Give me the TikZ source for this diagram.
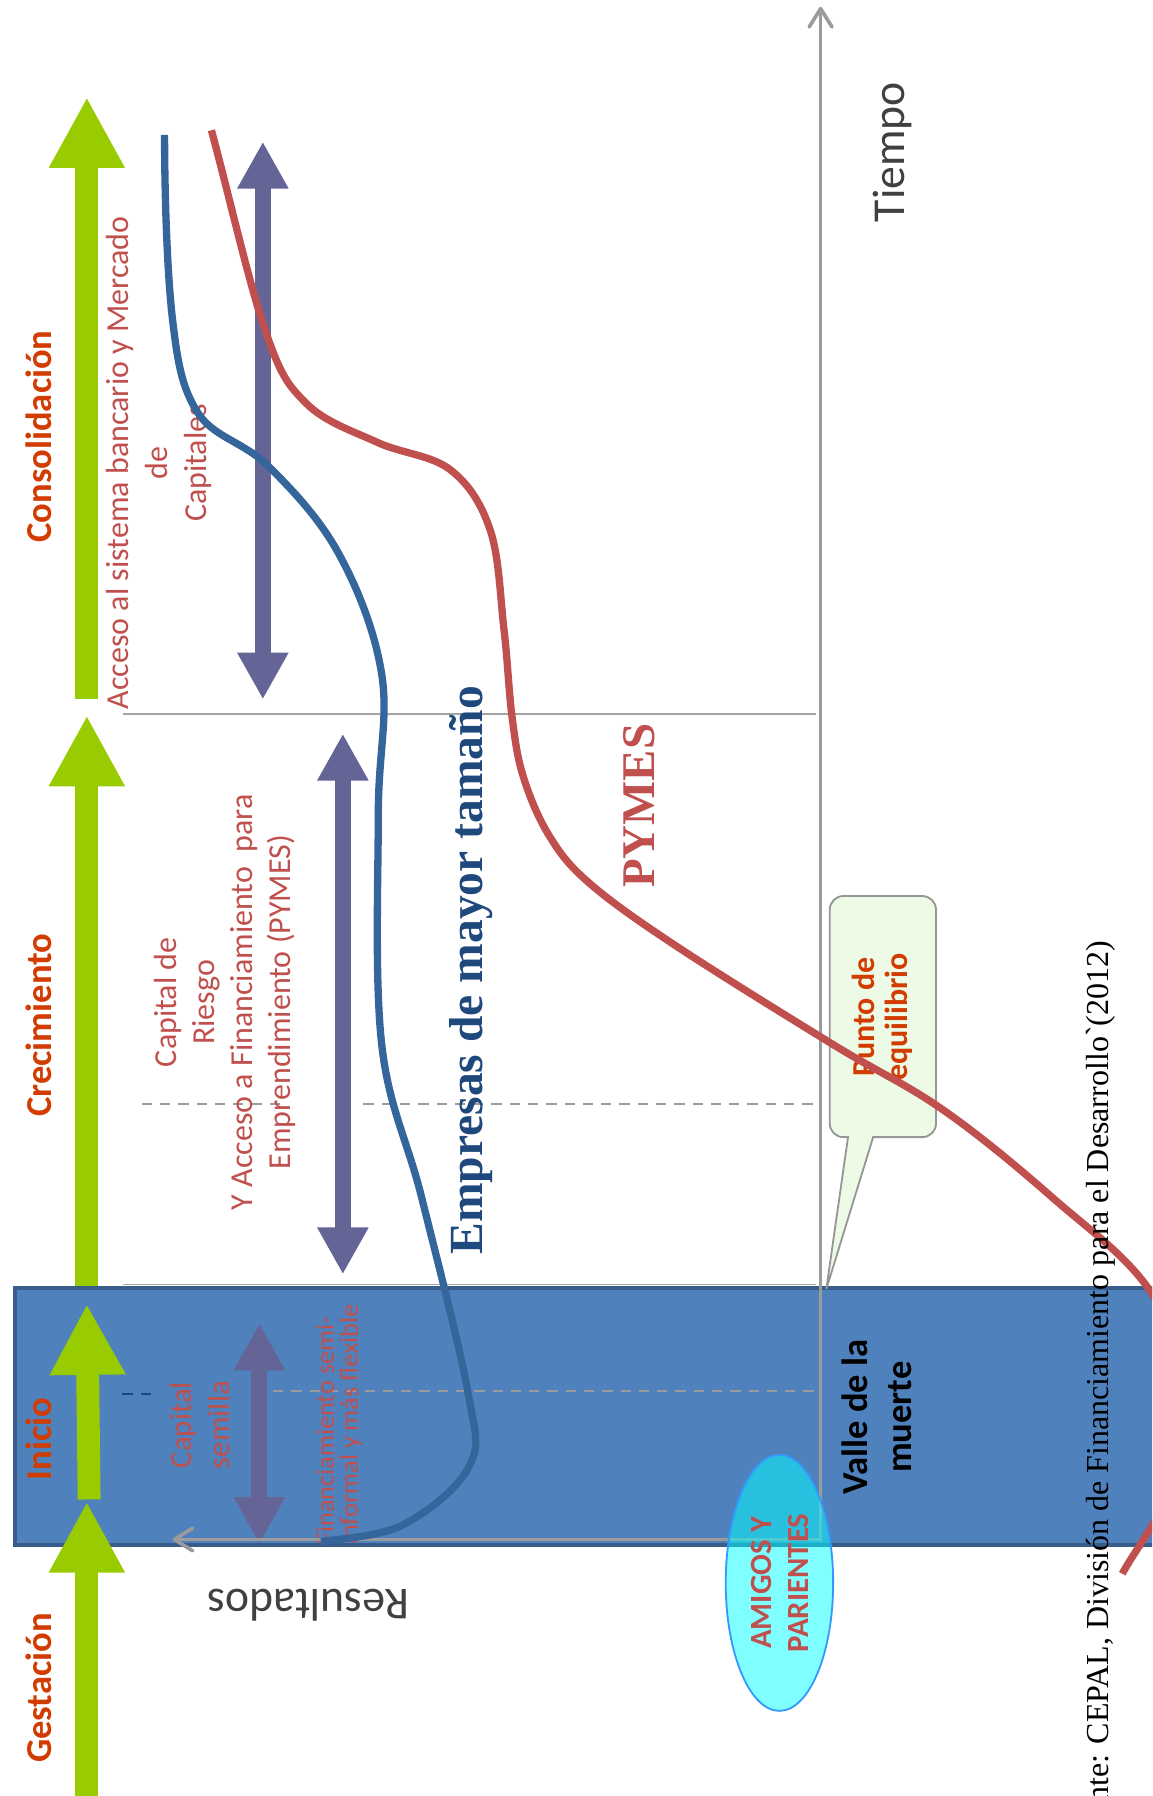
\documentclass[tikz,border=0pt]{standalone}
\usepackage{fontspec}
\setmainfont{Liberation Serif}
\newfontfamily\calibri{Carlito}
\usepackage{tikz}
\usetikzlibrary{arrows.meta}
\definecolor{faseverde}{RGB}{153,204,0}
\definecolor{faserojo}{RGB}{210,60,0}
\definecolor{textorojo}{RGB}{192,80,77}
\definecolor{flechamorada}{RGB}{100,100,150}
\definecolor{azulvalle}{RGB}{79,129,189}
\definecolor{bordevalle}{RGB}{56,93,138}
\definecolor{azulcurva}{RGB}{52,101,155}
\definecolor{azultitulo}{RGB}{31,73,125}
\definecolor{grisejes}{RGB}{155,155,155}
\definecolor{grislinea}{RGB}{165,165,165}
\definecolor{grisletra}{RGB}{64,64,64}
\definecolor{verdenota}{RGB}{236,250,230}
\definecolor{bordenota}{RGB}{150,150,150}
\definecolor{cianamigos}{RGB}{0,255,255}
\definecolor{bordeamigos}{RGB}{51,153,255}

\begin{document}
\begin{tikzpicture}[x=0.5pt,y=0.5pt,yscale=-1,xscale=1,
  fasearrow/.style={line width=10pt,draw=faseverde,-{Triangle[width=31pt,length=31pt]}},
  apoyoarrow/.style={line width=7pt,draw=flechamorada,{Triangle[width=21pt,length=20.5pt]}-{Triangle[width=21pt,length=20.5pt]}},
  bandline/.style={draw=grislinea,line width=0.7pt},
  dashline/.style={draw=grisejes,line width=1pt,dash pattern=on 4.5pt off 3.5pt},
  ejeline/.style={draw=grisejes,line width=1.6pt,{Straight Barb[length=8pt,width=10pt,round]}-{Straight Barb[length=8pt,width=10pt,round]}},
  curvaline/.style={line width=3.2pt},
  faselabel/.style={anchor=base,rotate=90,inner sep=0pt,text=faserojo,font=\calibri\bfseries\fontsize{16pt}{19pt}\selectfont},
  apoyotext/.style={anchor=north,rotate=90,inner sep=0pt,align=center,text=textorojo,font=\calibri\fontsize{14pt}{17pt}\selectfont},
  titulotext/.style={anchor=base,rotate=90,inner sep=0pt,font=\bfseries\fontsize{20.8pt}{24pt}\selectfont},
  ejetext/.style={anchor=base,inner sep=0pt,text=grisletra,font=\calibri\fontsize{20pt}{24pt}\selectfont},
  notatext/.style={anchor=north,rotate=90,inner sep=0pt,align=center,font=\calibri\bfseries\fontsize{14pt}{14.5pt}\selectfont}
]
\useasboundingbox (0,0) rectangle (1008,1571.5);
\clip (0,0) rectangle (1008,1571.5);
% fases superiores
\draw[fasearrow] (76,612) -- (76,85);
\draw[fasearrow] (76,1127) -- (76,626);
\draw[bandline] (108,625) -- (714,625);
\draw[dashline] (124,966) -- (250,966);
\draw[dashline] (318,966) -- (714,966);
\draw (93,405) node [apoyotext] (acceso) {Acceso al sistema bancario y Mercado\\de\\Capitales};
\draw (135,877) node [apoyotext,font=\calibri\fontsize{14pt}{16.5pt}\selectfont] (riesgo) {Capital de\\Riesgo\\Y Acceso a Financiamiento\ \ para\\Emprendimiento (PYMES)};
\draw[apoyoarrow] (230,124) -- (230,612);
\draw[apoyoarrow] (300,642) -- (300,1115);
% valle de la muerte
\draw[line width=1.6pt,draw=bordevalle,fill=azulvalle] (13,1127) rectangle (1030,1352);
\draw[bandline] (108,1124) -- (714,1124);
\draw[fasearrow] (78,1312) -- (76,1141);
\draw[fasearrow] (76,1572) -- (76,1314);
\draw[dashline,draw=azultitulo] (107,1220) -- (135,1220);
\draw[dashline] (239,1217) -- (714,1217);
\draw (148,1247) node [apoyotext,font=\calibri\fontsize{13.5pt}{17pt}\selectfont] (semilla) {Capital\\semilla};
\draw (276,1352) node [apoyotext,anchor=north west,align=left,font=\calibri\fontsize{11.5pt}{10.5pt}\selectfont] (informal) {Financiamiento semi-\\informal y más flexible};
\draw[apoyoarrow] (227,1158) -- (227,1351);
% ejes
\draw[ejeline] (151,1347) -- (718,1347) -- (718,6);
\draw[draw=bordenota,line width=0.8pt,fill=verdenota] (723,1128) -- (742,995) [rounded corners=6pt] -- (726,995) -- (726,784) -- (819,784) -- (819,995) [sharp corners] -- (764,995) -- cycle;
\draw (745,890) node [notatext,text=faserojo] (punto) {Punto de\\equilibrio};
% curvas
\draw[curvaline,draw=azulcurva] (144,118) .. controls (144,170) and (146.2,239.5) .. (151,280) .. controls (155.8,320.5) and (159.7,340) .. (173,361) .. controls (186.3,382) and (210.7,385.8) .. (233,406) .. controls (253.3,426.2) and (277.8,451.3) .. (295,482) .. controls (312.2,512.7) and (328,551.5) .. (334,590) .. controls (340,628.5) and (331,659) .. (331,713) .. controls (331,767) and (327.7,858.2) .. (334,914) .. controls (340.3,969.8) and (356.5,997.7) .. (369,1048) .. controls (381.5,1098.3) and (402,1177) .. (409,1216) .. controls (416,1255) and (420.3,1262.3) .. (411,1282) .. controls (401.7,1301.7) and (374.7,1322.8) .. (353,1334) .. controls (331.3,1345.2) and (293,1346.5) .. (281,1349);
\draw[curvaline,draw=textorojo] (185,114) .. controls (200.7,172.3) and (218.2,249.2) .. (232,289) .. controls (245.8,328.8) and (251.7,336.7) .. (268,353) .. controls (284.3,369.3) and (309,377.3) .. (330,387) .. controls (351,396.7) and (377.5,398.2) .. (394,411) .. controls (410.5,423.8) and (421.2,440.7) .. (429,464) .. controls (436.8,487.3) and (437.8,523.8) .. (441,551) .. controls (444.2,578.2) and (445.2,605.5) .. (448,627) .. controls (450.8,648.5) and (452.5,662.5) .. (458,680) .. controls (463.5,697.5) and (471.3,716.5) .. (481,732) .. controls (490.7,747.5) and (497.5,757) .. (516,773) .. controls (534.5,789) and (556.5,804.5) .. (592,828) .. controls (627.5,851.5) and (690.2,890.2) .. (729,914) .. controls (767.8,937.8) and (793,948.7) .. (825,971) .. controls (857,993.3) and (890.5,1021.2) .. (921,1048) .. controls (951.5,1074.8) and (986.5,1099.2) .. (1008,1132) .. controls (1029.5,1164.8) and (1054.3,1204.2) .. (1050,1245) .. controls (1045.7,1285.8) and (993.3,1355) .. (982,1377);
% textos
\draw (45,382) node [faselabel] (consolidacion) {Consolidación};
\draw (45,897) node [faselabel] (crecimiento) {Crecimiento};
\draw (45,1259) node [faselabel] (inicio) {Inicio};
\draw (45,1477) node [faselabel] (gestacion) {Gestación};
\draw (422,849) node [titulotext,text=azultitulo] (grandes) {Empresas de mayor tamaño};
\draw (573,705) node [titulotext,text=textorojo,font=\bfseries\fontsize{20.5pt}{24pt}\selectfont] (pymes) {PYMES};
\draw (791,133) node [ejetext,rotate=90] (tiempo) {Tiempo};
\draw (270,1391) node [ejetext,rotate=180] (resultados) {Resultados};
\draw (736,1240) node [notatext,font=\calibri\bfseries\fontsize{16pt}{19.5pt}\selectfont] (valle) {Valle de la\\muerte};
\draw[draw=bordeamigos,line width=0.8pt,fill=cianamigos,fill opacity=0.5] (682,1385) ellipse [x radius=47,y radius=112];
\draw (657,1385) node [notatext,text=textorojo,font=\calibri\bfseries\fontsize{13.5pt}{16pt}\selectfont] (amigos) {AMIGOS Y\\PARIENTES};
\draw (970,823) node [anchor=base east,rotate=90,inner sep=0pt,font=\fontsize{14pt}{16pt}\selectfont] (fuente) {Fuente: CEPAL, División de Financiamiento para el Desarrollo\textasciigrave(2012)};
\end{tikzpicture}
\end{document}
